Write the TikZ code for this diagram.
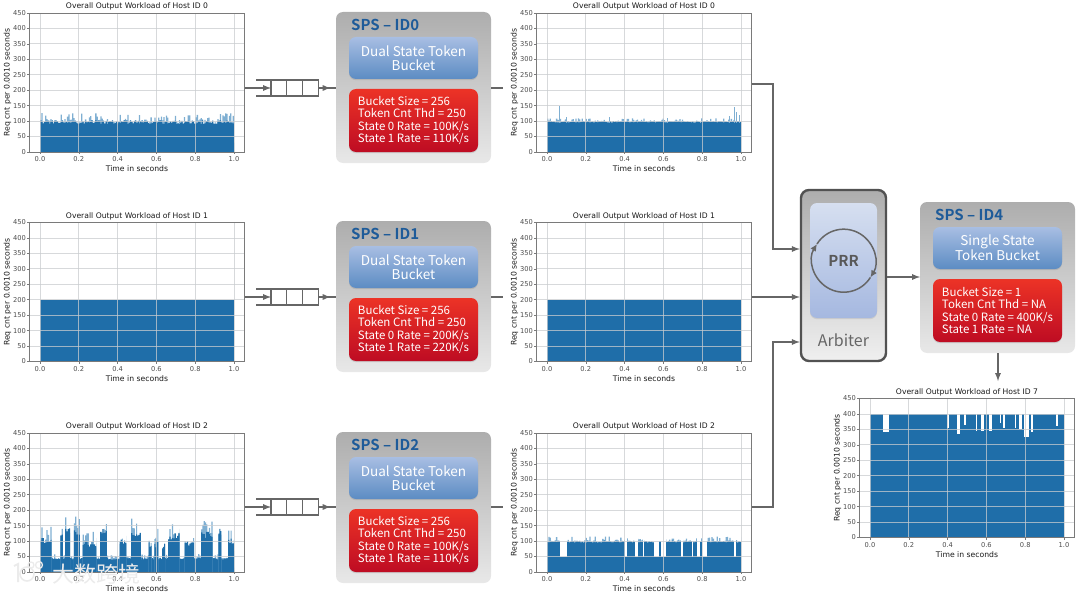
\documentclass[tikz,border=0pt]{standalone}
\usepackage{fontspec}
\setmainfont{Noto Sans CJK SC}[BoldFont={Noto Sans CJK SC Bold}]
\newfontfamily\plotfont{DejaVu Sans}
\usetikzlibrary{positioning,shadows,arrows.meta}
\definecolor{barblue}{HTML}{1F6EA9}
\definecolor{barlight}{HTML}{7FAFD2}
\definecolor{gridgray}{HTML}{C9CCCF}
\definecolor{framegray}{HTML}{7A7A7A}
\definecolor{linegray}{HTML}{666666}
\definecolor{titleblue}{HTML}{1E5B99}
\definecolor{tokentop}{HTML}{A8BEE3}
\definecolor{tokenbot}{HTML}{5C8CC3}
\definecolor{cfgtop}{HTML}{EC3326}
\definecolor{cfgbot}{HTML}{BE0C23}
\definecolor{prrtop}{HTML}{D6DFF0}
\definecolor{prrbot}{HTML}{A5B8E0}
\tikzset{
  plotframe/.style={draw=framegray,line width=0.9pt,minimum width=215pt,minimum height=139pt,inner sep=0pt,outer sep=0pt},
  plottitle/.style={font=\plotfont\fontsize{7.65}{8}\selectfont,text=black!90,inner sep=0pt},
  plotlabel/.style={font=\plotfont\fontsize{7.7}{8}\selectfont,text=black!90,inner sep=0pt},
  ticktext/.style={font=\plotfont\fontsize{6.7}{7}\selectfont,text=black!70,inner sep=0pt},
  gridline/.style={gridgray,line width=0.8pt,opacity=0.75},
  flowline/.style={draw=linegray,line width=1.7pt,-latex},
  ringline/.style={draw=linegray,line width=1.5pt,-{Latex[length=7pt,width=6.5pt]}},
  cellbox/.style={draw=linegray,line width=1.2pt,minimum width=15.7pt,minimum height=16pt,inner sep=0pt,outer sep=0pt},
  queueline/.style={draw=linegray,line width=1.2pt},
  spsbox/.style={rounded corners=7pt,top color=black!32,bottom color=black!9,minimum width=155pt,minimum height=151pt,anchor=north west,inner sep=0pt,outer sep=0pt},
  spstitle/.style={font=\bfseries\fontsize{15}{16}\selectfont,text=titleblue,anchor=west,inner sep=0pt},
  bluebox/.style={rounded corners=7pt,top color=tokentop,bottom color=tokenbot,minimum width=129pt,minimum height=42pt,align=center,text=white,font=\fontsize{13.5}{13.7}\selectfont,inner sep=0pt,outer sep=0pt,drop shadow={opacity=0.25,shadow xshift=0pt,shadow yshift=-1.2pt}},
  redbox/.style={rounded corners=7pt,top color=cfgtop,bottom color=cfgbot,minimum width=129pt,minimum height=63pt,inner sep=0pt,outer sep=0pt,align=left,text=white,font=\fontsize{11.5}{12.6}\selectfont,drop shadow={opacity=0.25,shadow xshift=0pt,shadow yshift=-1.2pt}}
}
\newcommand{\barsnoise}[4]{%
  \pgfmathtruncatemacro\nsamp{(#2-#1)*150+2}
  \fill[barlight] (#1,0) -- plot[const plot,domain=#1:#2,samples=\nsamp,variable=\x] (\x,{#3+#4*rnd^2}) -- (#2,0) -- cycle;
  \fill[barblue] (#1,0) -- plot[const plot,domain=#1:#2,samples=\nsamp,variable=\x] (\x,{#3+#4*0.35*rnd}) -- (#2,0) -- cycle;
}
\newcommand{\hostplot}[5]{%
  \begin{scope}[shift={(#2+11,#3)},x=194pt,y=0.3089pt]
    #5
    \foreach \t in {0,0.2,0.4,0.6,0.8,1}
      \draw[gridline] (\t,0) -- (\t,450);
    \foreach \v in {50,100,...,400}
      \draw[gridline] (-0.0567,\v) -- (1.0567,\v);
    \node[plotframe] (#1) at (0.5,225) {};
    \node[plottitle,above=2.5pt of #1] (#1title) {Overall Output Workload of Host ID #4};
    \foreach \t[count=\n] in {0.0,0.2,0.4,0.6,0.8,1.0}{
      \draw[framegray,line width=0.6pt] (\t,0) -- ++(0,-6.5);
      \node[ticktext,anchor=center] (#1xt\n) at (\t,-23) {\t};
    }
    \foreach \v[count=\n] in {0,50,...,450}{
      \draw[framegray,line width=0.6pt] (-0.0567,\v) -- ++(-0.011,0);
      \node[ticktext,anchor=east] (#1yt\n) at (-0.072,\v) {\v};
    }
    \node[plotlabel] (#1xlabel) at (0.5,-55) {Time in seconds};
    \node[plotlabel,rotate=90] (#1ylabel) at (-0.167,225) {Req cnt per 0.0010 seconds};
  \end{scope}
}
\newcommand{\queuebox}[3]{%
  \node[cellbox] (#1a) at (#2+7.85,#3) {};
  \node[cellbox,right=0pt of #1a] (#1b) {};
  \node[cellbox,right=0pt of #1b] (#1c) {};
  \draw[queueline] (#1a.north west) -- ++(-15,0);
  \draw[queueline] (#1a.south west) -- ++(-15,0);
}
\newcommand{\spsblock}[6]{%
  \node[spsbox] (#1) at (#2,#3) {};
  \node[spstitle] (#1title) at (#2+15,#3+13) {#4};
  \node[bluebox] (#1token) at (#2+77.5,#3+46) {#5};
  \node[redbox] (#1cfg) at (#2+77.5,#3+108.5) {#6};
}
\begin{document}
\begin{tikzpicture}[x=1pt,y=-1pt]
  \useasboundingbox (0,0) rectangle (1080,594);
  \pgfmathsetseed{4217}

  \hostplot{host0}{29}{152}{0}{\barsnoise{0}{1}{90}{36}}
  \hostplot{host1}{29}{361.5}{1}{\fill[barblue] (0,0) rectangle (1,200);}
  \hostplot{host2}{29}{572}{2}{
    \barsnoise{0}{1}{40}{18}
    \foreach \a/\b/\h in {0/0.06/90,0.105/0.118/105,0.13/0.155/125,0.175/0.205/120,0.22/0.29/80,0.31/0.345/120,0.41/0.445/85,0.47/0.52/115,0.56/0.575/80,0.59/0.61/80,0.63/0.645/75,0.66/0.72/105,0.745/0.795/80,0.83/0.89/110,0.92/0.935/120,0.97/1/90}
      {\barsnoise{\a}{\b}{\h}{60}}
  }

  \hostplot{out0}{536}{152}{0}{
    \barsnoise{0}{1}{95}{14}
    \foreach \a/\h in {0.062/150,0.1/112,0.32/113,0.62/110,0.94/118,0.965/145,0.975/130,0.99/120}
      {\fill[barlight] (\a,0) rectangle (\a+0.004,\h);}
    \fill[barblue] (0,0) rectangle (1,95);
  }
  \hostplot{out1}{536}{361.5}{1}{\fill[barblue] (0,0) rectangle (1,200);}
  \hostplot{out2}{536}{572}{2}{
    \barsnoise{0}{1}{95}{20}
    \foreach \a/\b in {0.065/0.103,0.4/0.41,0.452/0.467,0.495/0.5,0.553/0.575,0.588/0.614,0.69/0.7,0.747/0.755,0.773/0.79,0.8/0.825,0.962/0.975}
      {\fill[white] (\a,47) rectangle (\b,135);}
  }
  \hostplot{out7}{859}{537.5}{7}{
    \fill[barblue] (0,0) rectangle (1,400);
    \foreach \a/\b/\d in {0.067/0.1/340,0.397/0.408/355,0.449/0.462/335,0.486/0.493/365,0.548/0.552/345,0.572/0.589/345,0.611/0.628/345,0.671/0.675/370,0.685/0.695/355,0.745/0.753/355,0.77/0.784/350,0.795/0.822/325,0.832/0.839/340,0.959/0.969/360}
      {\fill[white] (\a,\d) rectangle (\b,401);}
  }

  \queuebox{q0}{271}{88}
  \queuebox{q1}{271}{297}
  \queuebox{q2}{271}{507}

  \spsblock{sps0}{336}{12}{SPS – ID0}{Dual State Token\\Bucket}{Bucket Size = 256\\Token Cnt Thd = 250\\State 0 Rate = 100K/s\\State 1 Rate = 110K/s}
  \spsblock{sps1}{336}{221}{SPS – ID1}{Dual State Token\\Bucket}{Bucket Size = 256\\Token Cnt Thd = 250\\State 0 Rate = 200K/s\\State 1 Rate = 220K/s}
  \spsblock{sps2}{336}{432}{SPS – ID2}{Dual State Token\\Bucket}{Bucket Size = 256\\Token Cnt Thd = 250\\State 0 Rate = 100K/s\\State 1 Rate = 110K/s}
  \spsblock{sps4}{920}{202}{SPS – ID4}{Single State\\Token Bucket}{Bucket Size = 1\\Token Cnt Thd = NA\\State 0 Rate = 400K/s\\State 1 Rate = NA}

  \node[draw=black!68,line width=2.4pt,rounded corners=8pt,top color=black!32,bottom color=black!6,minimum width=85pt,minimum height=171pt,inner sep=0pt,outer sep=1.2pt] (arbiter) at (843.5,275.5) {};
  \node[rounded corners=7pt,top color=prrtop,bottom color=prrbot,minimum width=67pt,minimum height=115pt,inner sep=0pt,drop shadow={opacity=0.2,shadow xshift=0pt,shadow yshift=-1.2pt}] (prrbox) at (843.5,260.5) {};
  \node[circle,minimum size=63pt,inner sep=0pt,outer sep=0pt,text=black!65,font=\bfseries\fontsize{15}{16}\selectfont] (prr) at (843.7,260.7) {PRR};
  \draw[ringline] (prr.148) arc[start angle=148,end angle=-32,radius=31.5pt];
  \draw[ringline] (prr.-32) arc[start angle=-32,end angle=-212,radius=31.5pt];
  \node[text=black!60,font=\fontsize{16}{18}\selectfont,inner sep=0pt] (arblabel) at (843.5,340) {Arbiter};

  \foreach \r in {0,1,2}{
    \draw[flowline] (host\r.east |- q\r a.west) -- (q\r a.west);
    \draw[flowline,-] (q\r c.east) -- (sps\r.west |- q\r c.east);
    \draw[flowline] (q\r c.east) -- ++(12.5,0);
    \draw[flowline,-] (sps\r.east |- q\r c.east) -- ++(12,0);
  }
  \coordinate (merge0) at (773,84);
  \coordinate (merge2) at (773,507);
  \draw[flowline] (out0.east |- merge0) -- (merge0) |- (arbiter.west |- 0,249);
  \draw[flowline] (out1.east |- 0,297) -- (arbiter.west |- 0,297);
  \draw[flowline] (out2.east |- merge2) -- (merge2) |- (arbiter.west |- 0,342);
  \draw[flowline] (arbiter.east |- 0,277) -- (sps4.west |- 0,277);
  \draw[flowline] (sps4.south -| 998,0) -- (998,381);

  \node[text=black!8,font=\fontsize{22}{23}\selectfont,inner sep=0pt,anchor=west] (mark) at (52,574) {大数跨境};
  \draw[black!8,line width=2pt] (14,566) -- (18,564) -- (18,582);
  \draw[black!8,line width=1.6pt] (27,574) circle[radius=7];
  \draw[black!8,line width=1.3pt] (31,565) circle[radius=3];
  \draw[black!8,line width=1.3pt] (39,565) circle[radius=3.5];
\end{tikzpicture}
\end{document}
